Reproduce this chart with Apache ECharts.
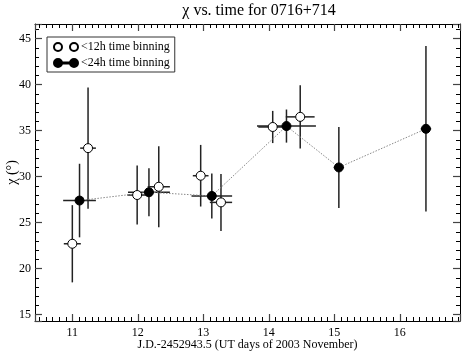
<!DOCTYPE html>
<html>
<head>
<meta charset="utf-8">
<script src="https://cdn.jsdelivr.net/npm/echarts@6/dist/echarts.min.js"></script>
<style>
  html, body { margin: 0; padding: 0; background: #fff; }
  #chart { width: 463px; height: 351px; }
</style>
</head>
<body>
<div id="chart"></div>
<script>
// <12h time binning (open circles)
const halfDayX = [11.0, 11.24, 11.99, 12.32, 12.96, 13.27, 14.06, 14.48];
const halfDayY = [22.7, 33.1, 28.0, 28.9, 30.1, 27.2, 35.4, 36.5];
const halfDayXErr = [0.13, 0.12, 0.15, 0.17, 0.12, 0.17, 0.22, 0.22];
const halfDayYErr = [4.2, 6.6, 3.2, 4.4, 3.35, 3.1, 1.75, 3.45];

// <24h time binning (filled circles)
const dayX = [11.11, 12.17, 13.13, 14.27, 15.07, 16.4];
const dayY = [27.4, 28.3, 27.9, 35.5, 31.0, 35.2];
const dayXErr = [0.25, 0.32, 0.31, 0.45, 0.08, 0.08];
const dayYErr = [4.0, 2.6, 2.45, 1.8, 4.4, 9.0];

const seriesNames = ["<12h time binning", "<24h time binning"];

const font = "Liberation Serif";
const chart = echarts.init(document.getElementById("chart"));

// two circles side by side, the way the legend shows a symbol sample
const openIcon =
  "path://M0,4A4,4,0,1,1,8,4A4,4,0,1,1,0,4Z M16,4A4,4,0,1,1,24,4A4,4,0,1,1,16,4Z";
const filledIcon =
  "path://M0,4A4,4,0,1,1,8,4A4,4,0,1,1,0,4Z M16,4A4,4,0,1,1,24,4A4,4,0,1,1,16,4Z" +
  " M9.4,3.6h0.9v0.8h-0.9Z M11.6,3.6h0.9v0.8h-0.9Z M13.8,3.6h0.9v0.8h-0.9Z";

function errorBars(xs, ys, xerr, yerr) {
  return {
    type: "custom",
    silent: true,
    z: 1,
    data: xs.map((x, i) => [x, ys[i], xerr[i], yerr[i]]),
    encode: { x: 0, y: 1 },
    renderItem: function (params, api) {
      const x = api.value(0);
      const y = api.value(1);
      const dx = api.value(2);
      const dy = api.value(3);
      const l = api.coord([x - dx, y]);
      const r = api.coord([x + dx, y]);
      const t = api.coord([x, y + dy]);
      const b = api.coord([x, y - dy]);
      const style = { stroke: "#222", lineWidth: 1.5 };
      return {
        type: "group",
        children: [
          { type: "line", shape: { x1: l[0], y1: l[1], x2: r[0], y2: r[1] }, style },
          { type: "line", shape: { x1: t[0], y1: t[1], x2: b[0], y2: b[1] }, style },
        ],
      };
    },
  };
}

const xCommon = {
  type: "value",
  min: 10.43,
  max: 16.92,
  axisLine: { lineStyle: { color: "#000", width: 1 } },
  axisTick: { inside: true, length: 7, lineStyle: { color: "#444", width: 1.2 } },
  minorTick: { show: true, splitNumber: 10, length: 4, lineStyle: { color: "#000" } },
  splitLine: { show: false },
};

const yCommon = {
  type: "value",
  min: 14.3,
  max: 46.6,
  axisLine: { lineStyle: { color: "#000", width: 1 } },
  axisTick: { inside: true, length: 7, lineStyle: { color: "#444", width: 1.2 } },
  minorTick: { show: true, splitNumber: 5, length: 4, lineStyle: { color: "#000" } },
  splitLine: { show: false },
};

const option = {
  animation: false,
  textStyle: { fontFamily: font, color: "#000" },
  title: {
    text: "χ vs. time for 0716+714",
    left: 254,
    top: -2,
    textAlign: "center",
    textStyle: { fontFamily: font, fontSize: 16, fontWeight: "normal", color: "#000" },
  },
  legend: {
    data: seriesNames.map((n, i) => ({ name: n, icon: i === 0 ? openIcon : filledIcon })),
    orient: "vertical",
    left: 47,
    top: 37,
    itemWidth: 24,
    itemHeight: 8,
    itemGap: 4,
    padding: [4, 5, 3, 6],
    borderColor: "#333",
    borderWidth: 1,
    textStyle: { fontFamily: font, fontSize: 12, color: "#000", padding: [0, 0, 0, -2] },
  },
  grid: { left: 35, right: 3, top: 24, bottom: 30, outerBoundsMode: "none", containLabel: false },
  xAxis: [
    {
      ...xCommon,
      position: "bottom",
      name: "J.D.-2452943.5 (UT days of 2003 November)",
      nameLocation: "middle",
      nameGap: 18,
      nameMoveOverlap: false,
      nameTextStyle: { fontFamily: font, fontSize: 12, color: "#000" },
      axisLabel: {
        fontFamily: font,
        fontSize: 12,
        color: "#000",
        margin: 6,
        showMinLabel: false,
        showMaxLabel: false,
      },
    },
    { ...xCommon, position: "top", axisLabel: { show: false } },
  ],
  yAxis: [
    {
      ...yCommon,
      position: "left",
      name: "χ (°)",
      nameLocation: "middle",
      nameGap: 16,
      nameMoveOverlap: false,
      nameTextStyle: { fontFamily: font, fontSize: 14, color: "#000" },
      axisLabel: {
        fontFamily: font,
        fontSize: 12,
        color: "#000",
        margin: 4,
        showMinLabel: false,
        showMaxLabel: false,
      },
    },
    { ...yCommon, position: "right", axisLabel: { show: false } },
  ],
  series: [
    errorBars(dayX, dayY, dayXErr, dayYErr),
    errorBars(halfDayX, halfDayY, halfDayXErr, halfDayYErr),
    {
      type: "line",
      silent: true,
      z: 2,
      symbol: "none",
      data: dayX.map((x, i) => [x, dayY[i]]),
      lineStyle: { color: "#888", width: 1, type: [1.5, 1.5] },
    },
    {
      name: seriesNames[0],
      type: "scatter",
      z: 3,
      symbol: "circle",
      symbolSize: 9,
      data: halfDayX.map((x, i) => [x, halfDayY[i]]),
      itemStyle: { color: "#fff", borderColor: "#000", borderWidth: 1, opacity: 1 },
    },
    {
      name: seriesNames[1],
      type: "scatter",
      z: 4,
      symbol: "circle",
      symbolSize: 9,
      data: dayX.map((x, i) => [x, dayY[i]]),
      itemStyle: { color: "#000", borderColor: "#000", borderWidth: 1, opacity: 1 },
    },
  ],
};

chart.setOption(option);
</script>
</body>
</html>
